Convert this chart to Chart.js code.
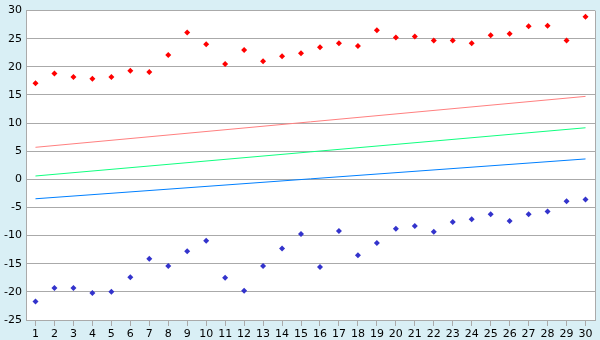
<!DOCTYPE html>
<html>
<head>
<meta charset="utf-8">
<script src="https://cdn.jsdelivr.net/npm/chart.js@4/dist/chart.umd.min.js"></script>
<style>
html,body{margin:0;padding:0;background:#d9eff5;}
#wrap{width:600px;height:340px;}
</style>
</head>
<body>
<div id="wrap"><canvas id="c" width="600" height="340"></canvas></div>
<script>
const categories = ['1','2','3','4','5','6','7','8','9','10','11','12','13','14','15','16','17','18','19','20','21','22','23','24','25','26','27','28','29','30'];
const upperPoints = [17.1,18.8,18.2,17.9,18.2,19.3,19.1,22.1,26.1,24.0,20.5,23.0,21.0,21.9,22.4,23.5,24.2,23.7,26.5,25.2,25.4,24.7,24.7,24.2,25.6,25.9,27.2,27.3,24.7,28.9];
const lowerPoints = [-21.7,-19.3,-19.3,-20.2,-20.0,-17.4,-14.1,-15.4,-12.8,-10.9,-17.5,-19.8,-15.4,-12.3,-9.7,-15.6,-9.2,-13.5,-11.3,-8.8,-8.3,-9.3,-7.6,-7.1,-6.2,-7.4,-6.2,-5.7,-3.9,-3.6];
const upperLineEnds = [5.7, 14.75];
const middleLineEnds = [0.6, 9.17];
const lowerLineEnds = [-3.45, 3.63];
const yTicks = [-25,-20,-15,-10,-5,0,5,10,15,20,25,30];

const first = categories[0], last = categories[categories.length-1];
function ends(v){ return [{x:first,y:v[0]},{x:last,y:v[1]}]; }

const frame = {
  id:'frame',
  beforeDraw(chart){
    const {ctx, chartArea:a} = chart;
    ctx.save();
    ctx.fillStyle = '#d9eff5';
    ctx.fillRect(0,0,chart.width,chart.height);
    ctx.fillStyle = '#ffffff';
    ctx.fillRect(a.left,a.top,a.right-a.left,a.bottom-a.top);
    ctx.restore();
  },
  afterDraw(chart){
    const {ctx, chartArea:a} = chart;
    ctx.save();
    ctx.strokeStyle = '#aaaaaa';
    ctx.lineWidth = 1;
    ctx.beginPath();
    ctx.moveTo(Math.round(a.right)+0.5, a.top);
    ctx.lineTo(Math.round(a.right)+0.5, a.bottom);
    ctx.stroke();
    ctx.restore();
  }
};

new Chart(document.getElementById('c'), {
  type:'line',
  data:{
    labels:categories,
    datasets:[
      {data:ends(upperLineEnds), borderColor:'#ff8080', borderWidth:1, pointRadius:0, fill:false},
      {data:ends(middleLineEnds), borderColor:'#10ff80', borderWidth:1, pointRadius:0, fill:false},
      {data:ends(lowerLineEnds), borderColor:'#0080ff', borderWidth:1, pointRadius:0, fill:false},
      {data:upperPoints, showLine:false, pointStyle:'rectRot', pointRadius:3, pointBorderWidth:0, backgroundColor:'#ff0000', borderColor:'#ff0000'},
      {data:lowerPoints, showLine:false, pointStyle:'rectRot', pointRadius:3, pointBorderWidth:0, backgroundColor:'#3333cc', borderColor:'#3333cc'}
    ]
  },
  options:{
    responsive:false,
    animation:false,
    layout:{padding:{top:5,right:5,left:0,bottom:0}},
    plugins:{legend:{display:false},tooltip:{enabled:false}},
    scales:{
      x:{
        type:'category',
        offset:true,
        grid:{offset:false, drawOnChartArea:false, drawTicks:true, tickLength:6, color:'#aaaaaa'},
        border:{color:'#aaaaaa'},
        ticks:{color:'#000000', font:{family:'DejaVu Sans', size:11}, padding:2, maxRotation:0, autoSkip:false},
        afterFit(s){ s.height = 20; }
      },
      y:{
        min:-25, max:30,
        afterBuildTicks(s){ s.ticks = yTicks.map(v=>({value:v})); },
        grid:{color:'#aaaaaa', drawTicks:false},
        border:{color:'#aaaaaa'},
        ticks:{color:'#000000', font:{family:'DejaVu Sans', size:11}, padding:4},
        afterFit(s){ s.width = 26; }
      }
    }
  },
  plugins:[frame]
});
</script>
</body>
</html>
